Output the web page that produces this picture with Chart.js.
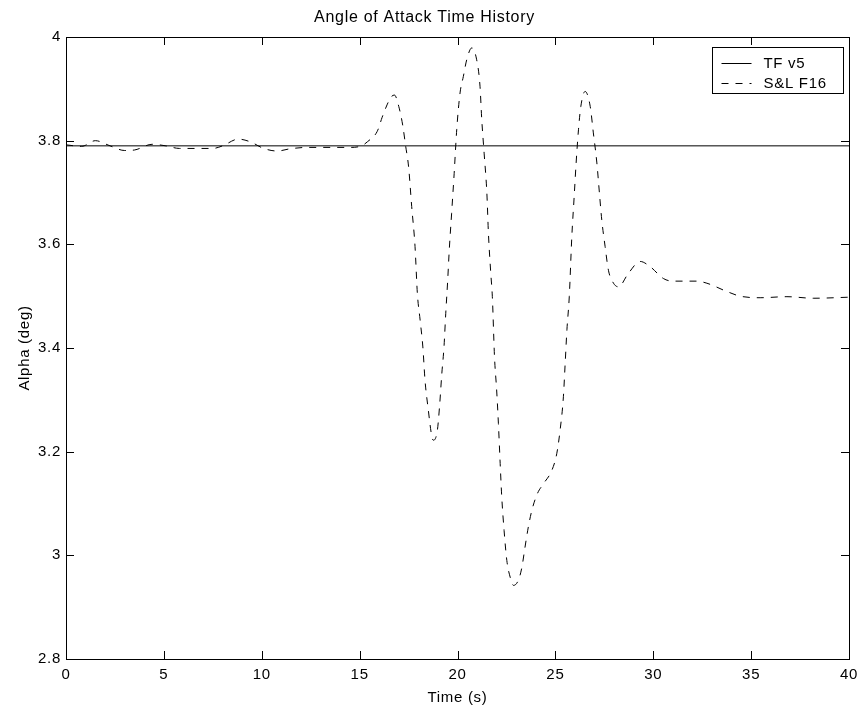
<!DOCTYPE html>
<html>
<head>
<meta charset="utf-8">
<title>Angle of Attack Time History</title>
<script src="https://cdn.jsdelivr.net/npm/chart.js@4.4.1/dist/chart.umd.min.js"></script>
<style>
  html, body { margin: 0; padding: 0; background: #fff; }
  canvas { display: block; }
</style>
</head>
<body>
<canvas id="alphaChart" width="865" height="709"></canvas>
<script>
// time (s) and alpha (deg) for the S&L F16 run
const timeF16 = [
  0, 0.8, 1.5, 2.25, 3.0, 3.5, 4.4, 5.1, 5.8, 7.5, 8.0, 8.8, 9.4, 10.1, 10.8, 11.4,
  12.3, 14.5, 15.1, 15.4, 15.9, 16.15, 16.4, 16.6, 16.78, 17.0, 17.2, 17.35, 17.5,
  17.66, 17.83, 17.95, 18.09, 18.23, 18.34, 18.51, 18.69, 18.77, 18.97, 19.08, 19.2,
  19.31, 19.4, 19.5, 19.57, 19.7, 19.83, 19.96, 20.13, 20.3, 20.47, 20.73, 20.98,
  21.15, 21.24, 21.36, 21.5, 21.58, 21.7, 21.78, 21.89, 22.0, 22.09, 22.18, 22.26,
  22.38, 22.52, 22.69, 22.86, 23.11, 23.29, 23.45, 23.62, 23.8, 24.08, 24.39, 24.82,
  25.07, 25.24, 25.41, 25.5, 25.59, 25.71, 25.84, 25.96, 26.06, 26.18, 26.3, 26.52,
  26.78, 26.94, 27.12, 27.25, 27.37, 27.54, 27.71, 27.97, 28.22, 28.73, 29.33, 29.84,
  30.52, 31.0, 32.2, 32.74, 33.76, 34.44, 35.46, 36.83, 38.17, 40
];
const alphaF16 = [
  3.792, 3.789, 3.800, 3.790, 3.781, 3.782, 3.793, 3.790, 3.785, 3.785, 3.790, 3.803,
  3.798, 3.785, 3.780, 3.784, 3.787, 3.787, 3.790, 3.798, 3.818, 3.845, 3.869, 3.884,
  3.888, 3.866, 3.830, 3.790, 3.750, 3.673, 3.596, 3.505, 3.454, 3.402, 3.338, 3.280,
  3.229, 3.222, 3.241, 3.286, 3.351, 3.402, 3.467, 3.531, 3.583, 3.660, 3.737, 3.821,
  3.892, 3.924, 3.956, 3.979, 3.956, 3.905, 3.840, 3.776, 3.699, 3.621, 3.544, 3.499,
  3.383, 3.319, 3.254, 3.177, 3.113, 3.048, 2.990, 2.958, 2.942, 2.952, 2.977, 3.016,
  3.055, 3.087, 3.119, 3.138, 3.164, 3.196, 3.241, 3.306, 3.370, 3.435, 3.499, 3.615,
  3.692, 3.757, 3.821, 3.866, 3.895, 3.866, 3.815, 3.757, 3.699, 3.647, 3.596, 3.550,
  3.525, 3.518, 3.544, 3.567, 3.557, 3.534, 3.529, 3.529, 3.525, 3.509, 3.500, 3.497,
  3.499, 3.496, 3.498
];

// TF v5 holds a constant alpha over the run
const timeTF = [0, 40];
const alphaTF = [3.79, 3.79];

const seriesNames = ["TF v5", "S&L F16"];
const xTicks = [0, 5, 10, 15, 20, 25, 30, 35, 40];
const yTicks = [2.8, 3, 3.2, 3.4, 3.6, 3.8, 4];

const FONT = "'Liberation Sans', Arial, Helvetica, sans-serif";
const FONT_SIZE = 15;
const SPACING = "0.7px";
const DASH = [7, 7];

const toPoints = (xs, ys) => xs.map((x, i) => ({ x: x, y: ys[i] }));

// slightly wider glyph spacing for every label on the canvas
const wideText = {
  id: "wideText",
  beforeDraw(chart) {
    chart.ctx.letterSpacing = SPACING;
  }
};

// box around the axes with inward tick marks on all four sides
const boxAxes = {
  id: "boxAxes",
  afterDatasetsDraw(chart) {
    const { ctx, chartArea: a, scales } = chart;
    const len = 8;
    ctx.save();
    ctx.strokeStyle = "#000";
    ctx.lineWidth = 1;
    ctx.beginPath();
    scales.x.ticks.forEach(t => {
      const px = Math.round(scales.x.getPixelForValue(t.value)) + 0.5;
      ctx.moveTo(px, a.bottom); ctx.lineTo(px, a.bottom - len);
      ctx.moveTo(px, a.top); ctx.lineTo(px, a.top + len);
    });
    scales.y.ticks.forEach(t => {
      const py = Math.round(scales.y.getPixelForValue(t.value)) + 0.5;
      ctx.moveTo(a.left, py); ctx.lineTo(a.left + len, py);
      ctx.moveTo(a.right, py); ctx.lineTo(a.right - len, py);
    });
    ctx.stroke();
    ctx.strokeRect(Math.round(a.left) + 0.5, Math.round(a.top) + 0.5,
      Math.round(a.right - a.left), Math.round(a.bottom - a.top));
    ctx.restore();
  }
};

// legend drawn inside the top-right corner of the plot
const insideLegend = {
  id: "insideLegend",
  afterDraw(chart) {
    const { ctx, chartArea: a } = chart;
    const w = 131, h = 46;
    const left = Math.round(a.right - 6 - w) + 0.5;
    const top = Math.round(a.top + 10) + 0.5;
    ctx.save();
    ctx.fillStyle = "#fff";
    ctx.fillRect(left, top, w, h);
    ctx.strokeStyle = "#000";
    ctx.lineWidth = 1;
    ctx.strokeRect(left, top, w, h);
    ctx.font = FONT_SIZE + "px " + FONT;
    ctx.letterSpacing = SPACING;
    ctx.fillStyle = "#000";
    ctx.textBaseline = "middle";
    chart.data.datasets.forEach((ds, i) => {
      const y = Math.round(top + 15 + i * 20) + 0.5;
      ctx.setLineDash(ds.borderDash || []);
      ctx.beginPath();
      ctx.moveTo(left + 9, y);
      ctx.lineTo(left + 39, y);
      ctx.stroke();
      ctx.setLineDash([]);
      ctx.fillText(ds.label, left + 51, y);
    });
    ctx.restore();
  }
};

new Chart(document.getElementById("alphaChart"), {
  type: "line",
  data: {
    datasets: [
      {
        label: seriesNames[0],
        data: toPoints(timeTF, alphaTF),
        borderColor: "#000",
        borderWidth: 1,
        pointRadius: 0
      },
      {
        label: seriesNames[1],
        data: toPoints(timeF16, alphaF16),
        borderColor: "#000",
        borderWidth: 1,
        borderDash: DASH,
        pointRadius: 0,
        cubicInterpolationMode: "monotone"
      }
    ]
  },
  options: {
    responsive: false,
    animation: false,
    events: [],
    layout: { padding: { top: 0, right: 16, bottom: 0, left: 0 } },
    plugins: {
      legend: { display: false },
      tooltip: { enabled: false },
      title: {
        display: true,
        text: "Angle of Attack Time History",
        color: "#000",
        font: { family: FONT, size: 16, weight: "normal" },
        padding: { top: 8.4, bottom: 9.4 }
      }
    },
    scales: {
      x: {
        type: "linear",
        min: 0,
        max: 40,
        afterBuildTicks: s => { s.ticks = xTicks.map(v => ({ value: v })); },
        afterFit: s => { s.height = 50; },
        grid: { display: false, drawTicks: false },
        border: { display: false },
        ticks: {
          color: "#000",
          font: { family: FONT, size: FONT_SIZE },
          padding: 7,
          maxRotation: 0,
          callback: v => String(v)
        },
        title: {
          display: true,
          text: "Time (s)",
          color: "#000",
          font: { family: FONT, size: FONT_SIZE },
          padding: { top: 0, bottom: 2 }
        }
      },
      y: {
        type: "linear",
        min: 2.8,
        max: 4,
        afterBuildTicks: s => { s.ticks = yTicks.map(v => ({ value: v })); },
        afterFit: s => { s.width = 66; },
        grid: { display: false, drawTicks: false },
        border: { display: false },
        ticks: {
          color: "#000",
          font: { family: FONT, size: FONT_SIZE },
          padding: 5,
          callback: v => String(+v.toFixed(1))
        },
        title: {
          display: true,
          text: "Alpha (deg)",
          color: "#000",
          font: { family: FONT, size: FONT_SIZE },
          padding: { top: 16, bottom: 0 }
        }
      }
    }
  },
  plugins: [wideText, boxAxes, insideLegend]
});
</script>
</body>
</html>
